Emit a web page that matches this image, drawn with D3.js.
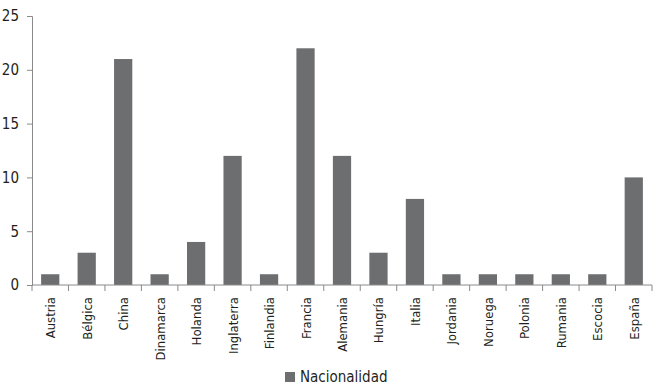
<!DOCTYPE html>
<html>
<head>
<meta charset="utf-8">
<script src="https://cdn.jsdelivr.net/npm/d3@7"></script>
<style>
  body { margin: 0; background: #fff; }
  text { font-family: "Liberation Sans Narrow", "DejaVu Sans Condensed", sans-serif; fill: #231f20; }
</style>
</head>
<body>
<div id="chart"></div>
<script>
// Categories
var paises = ["Austria", "Bélgica", "China", "Dinamarca", "Holanda", "Inglaterra", "Finlandia",
  "Francia", "Alemania", "Hungría", "Italia", "Jordania", "Noruega", "Polonia", "Rumania",
  "Escocia", "España"];

// Values
var nacionalidad = [1, 3, 21, 1, 4, 12, 1, 22, 12, 3, 8, 1, 1, 1, 1, 1, 10];

// Y ticks
var yTicks = [0, 5, 10, 15, 20, 25];

var seriesName = "Nacionalidad";

var width = 657;
var height = 387;

// Plot area
var plotLeft = 32, plotRight = 652, plotTop = 16, plotBottom = 285;

var svg = d3.select("#chart")
  .append("svg")
  .attr("width", width)
  .attr("height", height);

var data = paises.map(function(p, i) { return { pais: p, valor: nacionalidad[i] }; });

var xScale = d3.scaleBand()
  .domain(paises)
  .range([plotLeft, plotRight])
  .paddingInner(0.5)
  .paddingOuter(0.25);

var yScale = d3.scaleLinear()
  .domain([0, 25])
  .range([plotBottom, plotTop]);

var axisColor = "#8a8a8c";

// Bars
svg.selectAll("rect.bar")
  .data(data)
  .enter()
  .append("rect")
  .attr("class", "bar")
  .attr("x", function(d) { return xScale(d.pais); })
  .attr("y", function(d) { return yScale(d.valor); })
  .attr("width", xScale.bandwidth())
  .attr("height", function(d) { return plotBottom - yScale(d.valor); })
  .attr("fill", "#6d6e70");

// Y axis
var yAxis = d3.axisLeft(yScale).tickValues(yTicks).tickSize(5).tickPadding(8);
var gy = svg.append("g")
  .attr("transform", "translate(" + plotLeft + ",0)")
  .call(yAxis);
gy.select(".domain").attr("stroke", axisColor);
gy.selectAll(".tick line").attr("stroke", axisColor);
gy.selectAll(".tick text")
  .attr("font-size", "15px")
  .attr("font-family", "Liberation Sans Narrow, DejaVu Sans Condensed, sans-serif")
  .attr("fill", "#231f20");

// X axis line
var xAxisG = svg.append("g");
xAxisG.append("line")
  .attr("x1", plotLeft).attr("x2", plotRight)
  .attr("y1", plotBottom).attr("y2", plotBottom)
  .attr("stroke", axisColor);

// Tick marks at band boundaries
var step = xScale.step();
var bounds = d3.range(paises.length + 1).map(function(i) { return plotLeft + i * step; });
xAxisG.selectAll("line.tk")
  .data(bounds)
  .enter()
  .append("line")
  .attr("class", "tk")
  .attr("x1", function(d) { return d; })
  .attr("x2", function(d) { return d; })
  .attr("y1", plotBottom)
  .attr("y2", plotBottom + 6)
  .attr("stroke", axisColor);

// Category labels (rotated)
xAxisG.selectAll("text.cat")
  .data(paises)
  .enter()
  .append("text")
  .attr("class", "cat")
  .attr("transform", function(d) {
    return "translate(" + (xScale(d) + xScale.bandwidth() / 2 + 5) + "," + (plotBottom + 12) + ") rotate(-90)";
  })
  .attr("text-anchor", "end")
  .attr("font-size", "13px")
  .text(function(d) { return d; });

// Legend
var legend = svg.append("g").attr("transform", "translate(285,372)");
legend.append("rect")
  .attr("width", 10).attr("height", 10)
  .attr("fill", "#6d6e70");
legend.append("text")
  .attr("x", 15)
  .attr("y", 10)
  .attr("font-size", "15px")
  .text(seriesName);
</script>
</body>
</html>
